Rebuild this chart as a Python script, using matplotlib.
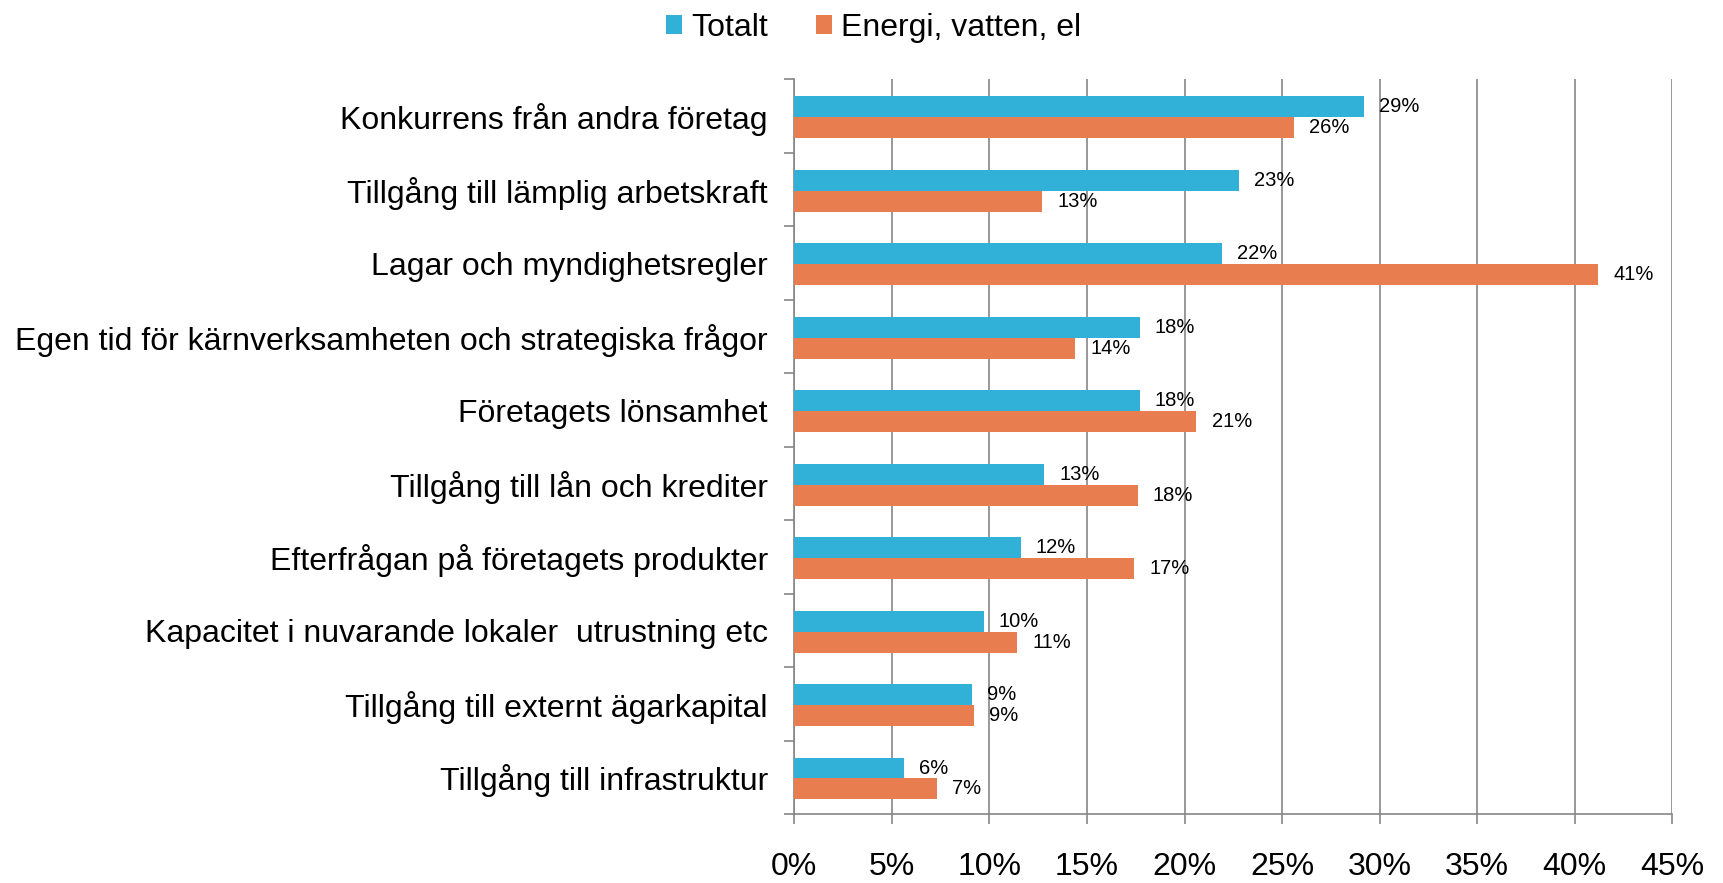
import matplotlib
matplotlib.use("Agg")
import matplotlib.pyplot as plt
import numpy as np
from matplotlib.ticker import PercentFormatter

plt.rcParams['font.family'] = ['Liberation Sans', 'DejaVu Sans']

# data
categories = [
    "Konkurrens från andra företag",
    "Tillgång till lämplig arbetskraft",
    "Lagar och myndighetsregler",
    "Egen tid för kärnverksamheten och strategiska frågor",
    "Företagets lönsamhet",
    "Tillgång till lån och krediter",
    "Efterfrågan på företagets produkter",
    "Kapacitet i nuvarande lokaler  utrustning etc",
    "Tillgång till externt ägarkapital",
    "Tillgång till infrastruktur",
]
totalt = [0.292, 0.228, 0.219, 0.177, 0.177, 0.128, 0.116, 0.097, 0.091, 0.056]
energi = [0.256, 0.127, 0.412, 0.144, 0.206, 0.176, 0.174, 0.114, 0.092, 0.073]
series_names = ["Totalt", "Energi, vatten, el"]
colors = ["#31B0D8", "#E87D50"]

fig = plt.figure(figsize=(17.23, 8.83), dpi=100)
ax = fig.add_axes([0.461, 0.078, 0.5096, 0.832])

n = len(categories)
y = np.arange(n)
h = 0.285

b1 = ax.barh(y - h / 2 + 0.015, totalt, height=h, color=colors[0], label=series_names[0], zorder=3)
b2 = ax.barh(y + h / 2 + 0.015, energi, height=h, color=colors[1], label=series_names[1], zorder=3)

for bars, vals in ((b1, totalt), (b2, energi)):
    for bar, v in zip(bars, vals):
        ax.annotate(f"{v:.0%}", (v, bar.get_y() + bar.get_height() / 2),
                    xytext=(11, 0), textcoords="offset points",
                    va="center", ha="left", fontsize=14.5)

ax.set_ylim(n - 0.5, -0.5)
ax.set_xlim(0, 0.45)
ax.set_xticks(np.arange(0, 0.451, 0.05))
ax.xaxis.set_major_formatter(PercentFormatter(1.0, decimals=0))

# category labels centred, tick marks between categories
ax.set_yticks(y)
ax.set_yticklabels(categories, fontsize=23)
ax.tick_params(axis="y", which="major", length=0, pad=19)
ax.set_yticks(np.arange(-0.5, n, 1), minor=True)
ax.tick_params(axis="y", which="minor", length=7, color="#868686", width=1.2)
ax.tick_params(axis="x", labelsize=23, length=7, color="#868686", width=1.2, pad=20)

ax.grid(axis="x", color="#868686", linewidth=1.2, zorder=0)
for s in ("top", "right"):
    ax.spines[s].set_visible(False)
for s in ("left", "bottom"):
    ax.spines[s].set_color("#868686")
    ax.spines[s].set_linewidth(1.2)

fig.legend(handles=[b1, b2], labels=series_names, loc="upper center",
           bbox_to_anchor=(0.507, 1.018), ncol=2, frameon=False, fontsize=23,
           handlelength=0.5, handleheight=0.5, handletextpad=0.3, columnspacing=1.5)

fig.savefig("out.png", dpi=100)
